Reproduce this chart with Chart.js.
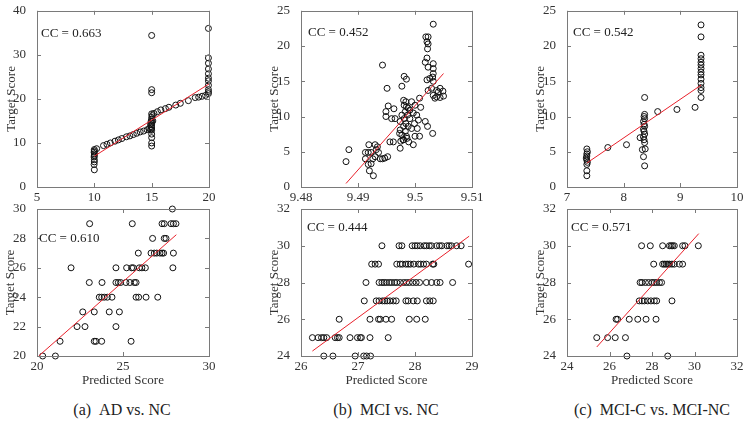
<!DOCTYPE html>
<html>
<head>
<meta charset="utf-8">
<script src="https://cdn.jsdelivr.net/npm/chart.js@4.4.1/dist/chart.umd.min.js"></script>
<style>
  body { margin: 0; background: #fff; }
  #lienzo { position: relative; width: 749px; height: 426px; overflow: hidden; }
  canvas { position: absolute; }
  .leyenda {
    position: absolute; top: 401px; width: 220px; text-align: center;
    font-family: "Liberation Serif", serif; font-size: 16px; line-height: 18px; color: #222;
  }
</style>
</head>
<body>
<div id="lienzo">
  <canvas id="g1"></canvas><canvas id="g2"></canvas><canvas id="g3"></canvas>
  <canvas id="g4"></canvas><canvas id="g5"></canvas><canvas id="g6"></canvas>
  <div class="leyenda" style="left:12px">(a)&ensp;AD vs. NC</div>
  <div class="leyenda" style="left:276px">(b)&ensp;MCI vs. NC</div>
  <div class="leyenda" style="left:542px">(c)&ensp;MCI-C vs. MCI-NC</div>
</div>
<script>
// (a) AD vs. NC - arriba
const adArribaX = [10, 10, 9.98, 10, 10, 9.98, 10, 10, 9.98, 10, 10.2,
  10.8, 11.1, 11.4, 11.8, 12.1, 12.4, 12.8, 13.1, 13.4, 13.7, 14.0, 14.3, 14.6, 14.8,
  15, 15, 15, 15, 15.05, 15, 15, 14.95, 15, 15, 14.95, 15, 15, 15, 15, 15, 15, 14.9, 15.1, 14.9,
  15.2, 15.5, 15.8, 16.2, 16.5, 17.1, 17.5, 18.2, 18.8, 19.1, 19.4, 19.7,
  19.95, 19.95, 19.95, 19.95, 19.95, 19.95, 19.95, 19.95, 19.95, 19.95, 19.95];
const adArribaY = [8.5, 8.2, 7.9, 7.5, 7.1, 6.8, 6.2, 5.7, 5.1, 3.9, 8.7,
  9.4, 9.7, 10.0, 10.4, 10.7, 11.0, 11.4, 11.6, 11.9, 12.2, 12.5, 12.7, 13.0, 13.3,
  34.4, 22.1, 21.4, 16.6, 16.2, 15.8, 15.3, 14.9, 14.5, 14.1, 13.7, 13.4, 12.9, 12.0, 11.2, 10.0, 9.3, 14.2, 15.0, 13.0,
  16.7, 17.1, 17.5, 17.8, 18.1, 18.6, 19.0, 19.6, 20.3, 20.4, 20.6, 20.8,
  36.0, 29.3, 28.1, 26.8, 25.7, 24.7, 24.1, 23.1, 22.1, 21.6, 21.2];
const adArribaAjuste = [{ x: 10, y: 7.0 }, { x: 20, y: 23.4 }];

// (b) MCI vs. NC - arriba
const mciArribaX = [9.4879, 9.4884, 9.4913, 9.4918, 9.4923, 9.4919, 9.4930, 9.4934,
  9.4913, 9.4918, 9.4923, 9.4920, 9.4927, 9.4926, 9.4930, 9.4939, 9.4943, 9.4947,
  9.4932, 9.4936, 9.4952, 9.4956, 9.4962, 9.4943, 9.4951, 9.4949, 9.4953, 9.4949,
  9.4959, 9.4965, 9.4963, 9.4974, 9.4975, 9.4979, 9.4977, 9.4981, 9.4985,
  9.4980, 9.4984, 9.4981, 9.4985, 9.4988, 9.4991, 9.4983, 9.4977, 9.4987, 9.4981,
  9.4991, 9.4974, 9.4984, 9.4980, 9.4988, 9.4974, 9.4983, 9.4977, 9.4985, 9.4980,
  9.4989, 9.4973, 9.4994, 9.5000, 9.4997, 9.5003, 9.5006, 9.4999, 9.4994, 9.4986,
  9.5004, 9.5008, 9.5018, 9.5022, 9.5031, 9.4997, 9.5000, 9.5010, 9.5008,
  9.5032, 9.5019, 9.5023, 9.5021, 9.5023, 9.5022, 9.5021, 9.5018, 9.5032, 9.5023,
  9.5032, 9.5032, 9.5031, 9.5021, 9.5026, 9.5032, 9.5023, 9.5029, 9.5038, 9.5041,
  9.5044, 9.5049, 9.5032, 9.5038, 9.5050, 9.5035, 9.5044];
const mciArribaY = [3.6, 5.3, 4.9, 4.9, 4.9, 6.0, 6.0, 5.7,
  4.0, 3.2, 3.3, 2.3, 1.6, 4.0, 4.3, 4.0, 4.0, 4.1,
  5.3, 4.9, 4.3, 6.4, 6.4, 17.3, 14.0, 10.7, 11.5, 10.0,
  9.7, 9.7, 11.1, 5.5, 6.5, 6.7, 14.3, 15.7, 15.3,
  12.3, 12.1, 11.6, 11.4, 11.2, 10.9, 10.7, 10.2, 10.2, 9.7,
  9.7, 9.3, 9.0, 8.6, 8.6, 8.1, 7.9, 7.4, 7.2, 6.7,
  6.4, 7.6, 12.1, 11.6, 10.5, 10.2, 9.5, 9.0, 8.3, 6.9,
  8.3, 7.2, 9.3, 8.6, 7.6, 6.0, 7.2, 11.3, 12.6,
  23.1, 21.3, 21.3, 20.6, 20.3, 19.6, 18.3, 17.7, 17.5, 17.0,
  16.8, 16.1, 15.6, 15.2, 15.4, 15.0, 13.7, 14.0, 13.7, 13.5,
  14.0, 13.6, 13.0, 12.8, 12.9, 12.6, 12.7];
const mciArribaAjuste = [{ x: 9.4879, y: 0.5 }, { x: 9.505, y: 16.1 }];

// (c) MCI-C vs. MCI-NC - arriba
const convArribaX = [7.35, 7.36, 7.35, 7.35, 7.34, 7.35, 7.36, 7.35, 7.35, 7.35,
  7.72, 8.05,
  8.37, 8.37, 8.36, 8.37, 8.35, 8.36, 8.37, 8.35, 8.36, 8.37, 8.35, 8.36, 8.37, 8.33, 8.35, 8.37, 8.29, 8.38,
  8.6, 8.94, 9.26,
  9.365, 9.365, 9.365, 9.365, 9.365, 9.365, 9.365, 9.365, 9.365, 9.365, 9.365, 9.365, 9.365, 9.365];
const convArribaY = [5.4, 5.0, 4.7, 4.4, 4.1, 3.8, 3.5, 3.2, 2.3, 1.6,
  5.6, 6.0,
  12.7, 10.3, 10.0, 9.7, 9.3, 8.9, 8.6, 8.2, 7.9, 7.5, 7.1, 6.7, 6.3, 5.3, 4.3, 3.0, 7.0, 5.4,
  10.7, 11.0, 11.3,
  23.0, 21.3, 18.7, 18.2, 17.7, 17.3, 16.8, 16.3, 15.9, 15.3, 14.7, 14.1, 13.7, 12.7];
const convArribaAjuste = [{ x: 7.35, y: 3.4 }, { x: 9.365, y: 14.45 }];

// (a) AD vs. NC - abajo
const adAbajoX = [27.87,
  23.06, 25.54, 27.27, 27.40, 27.79, 27.93, 28.08,
  26.72, 27.40, 27.50,
  25.89, 26.63, 26.82, 26.96, 27.15, 27.27, 27.36, 27.93,
  21.98, 24.59, 25.21, 25.50, 25.60, 25.95, 26.10, 26.30, 27.90,
  23.04, 23.78, 24.59, 24.73, 24.86, 25.17, 25.40, 25.66, 25.76,
  23.62, 23.76, 23.91, 24.09, 24.36, 25.76, 25.91, 26.34, 27.02,
  22.66, 23.33, 24.20, 24.79,
  22.33, 22.79, 24.59,
  21.34, 23.33, 23.43, 23.76, 25.47,
  20.33, 21.07];
const adAbajoY = [30,
  29, 29, 29, 29, 29, 29, 29,
  28, 28, 28,
  27, 27, 27, 27, 27, 27, 27, 27,
  26, 26, 26, 26, 26, 26, 26, 26, 26,
  25, 25, 25, 25, 25, 25, 25, 25, 25,
  24, 24, 24, 24, 24, 24, 24, 24, 24,
  23, 23, 23, 23,
  22, 22, 22,
  21, 21, 21, 21, 21,
  20, 20];
const adAbajoAjuste = [{ x: 20.1, y: 20.0 }, { x: 28.1, y: 28.25 }];

// (b) MCI vs. NC - abajo
const mciAbajoX = [27.42, 27.72, 27.77, 27.95, 28.0, 28.04, 28.09, 28.16, 28.2, 28.25, 28.29, 28.38, 28.43, 28.47, 28.56, 28.6, 28.64, 28.73, 28.81,
  27.24, 27.30, 27.36, 27.68, 27.74, 27.78, 27.84, 27.88, 27.92, 27.98, 28.06, 28.1, 28.15, 28.2, 28.31, 28.33, 28.94,
  27.14, 27.37, 27.42, 27.46, 27.5, 27.55, 27.59, 27.64, 27.68, 27.74, 27.8, 27.85, 27.9, 27.96, 28.02, 28.08, 28.2, 28.29, 28.38, 28.44, 28.66,
  27.11, 27.32, 27.37, 27.43, 27.47, 27.51, 27.56, 27.62, 27.67, 27.84, 27.88, 27.97, 28.04, 28.2, 28.26, 28.32,
  26.67, 27.21, 27.36, 27.39, 27.49, 27.59, 27.9, 28.03, 28.18,
  26.2, 26.3, 26.36, 26.4, 26.45, 26.6, 26.64, 26.67, 26.86, 26.99, 27.04, 27.06, 27.21, 27.53,
  26.4, 26.56, 26.95, 27.1, 27.15, 27.22];
const mciAbajoY = [30, 30, 30, 30, 30, 30, 30, 30, 30, 30, 30, 30, 30, 30, 30, 30, 30, 30, 30,
  29, 29, 29, 29, 29, 29, 29, 29, 29, 29, 29, 29, 29, 29, 29, 29, 29,
  28, 28, 28, 28, 28, 28, 28, 28, 28, 28, 28, 28, 28, 28, 28, 28, 28, 28, 28, 28, 28,
  27, 27, 27, 27, 27, 27, 27, 27, 27, 27, 27, 27, 27, 27, 27, 27,
  26, 26, 26, 26, 26, 26, 26, 26, 26,
  25, 25, 25, 25, 25, 25, 25, 25, 25, 25, 25, 25, 25, 25,
  24, 24, 24, 24, 24, 24];
const mciAbajoAjuste = [{ x: 26.2, y: 24.27 }, { x: 28.95, y: 30.52 }];

// (c) MCI-C vs. MCI-NC - abajo
const convAbajoX = [27.51, 27.92, 28.5, 28.82, 28.9, 28.97, 29.05, 29.44, 29.55, 30.18,
  28.08, 28.5, 28.58, 28.66, 28.74, 28.82, 28.94, 29.05, 29.29, 29.44,
  27.44, 27.53, 27.69, 27.84, 28.0, 28.11, 28.22, 28.35, 28.45,
  27.4, 27.53, 27.64, 27.8, 27.95, 28.11, 28.22, 28.94,
  26.31, 26.38, 26.93, 27.33, 27.72, 28.19,
  25.4, 25.91, 26.27, 26.75,
  26.82, 28.74];
const convAbajoY = [30, 30, 30, 30, 30, 30, 30, 30, 30, 30,
  29, 29, 29, 29, 29, 29, 29, 29, 29, 29,
  28, 28, 28, 28, 28, 28, 28, 28, 28,
  27, 27, 27, 27, 27, 27, 27, 27,
  26, 26, 26, 26, 26, 26,
  25, 25, 25, 25,
  24, 24];
const convAbajoAjuste = [{ x: 25.4, y: 24.49 }, { x: 30.2, y: 30.66 }];

const fuente = '"Liberation Serif", serif';
const colorCaja = "#7a7a7a";

// caja completa con marcas hacia adentro (estilo matlab)
const cajaPlugin = {
  id: "caja",
  afterDraw(chart) {
    const { ctx, chartArea: a, scales } = chart;
    ctx.save();
    ctx.strokeStyle = colorCaja;
    ctx.lineWidth = 1;
    ctx.strokeRect(Math.round(a.left) + 0.5, Math.round(a.top) + 0.5, Math.round(a.right - a.left), Math.round(a.bottom - a.top));
    ctx.beginPath();
    scales.x.ticks.forEach((t) => {
      const px = Math.round(scales.x.getPixelForValue(t.value)) + 0.5;
      ctx.moveTo(px, a.bottom); ctx.lineTo(px, a.bottom - 4);
      ctx.moveTo(px, a.top); ctx.lineTo(px, a.top + 4);
    });
    scales.y.ticks.forEach((t) => {
      const py = Math.round(scales.y.getPixelForValue(t.value)) + 0.5;
      ctx.moveTo(a.left, py); ctx.lineTo(a.left + 4, py);
      ctx.moveTo(a.right, py); ctx.lineTo(a.right - 4, py);
    });
    ctx.stroke();
    ctx.restore();
  },
};

const ccPlugin = {
  id: "cc",
  afterDraw(chart, args, opts) {
    const { ctx, chartArea: a } = chart;
    ctx.save();
    ctx.font = "13px " + fuente;
    ctx.fillStyle = "#222";
    ctx.textBaseline = "middle";
    ctx.fillText(opts.texto, a.left + opts.dx, a.top + opts.dy);
    ctx.restore();
  },
};

function formato(v) {
  return String(Math.round(v * 1000) / 1000);
}

function crearPanel(id, p) {
  const canvas = document.getElementById(id);
  canvas.width = p.ancho;
  canvas.height = p.alto;
  canvas.style.left = p.izq + "px";
  canvas.style.top = p.arriba + "px";

  const puntos = p.xs.map((x, i) => ({ x: x, y: p.ys[i] }));

  new Chart(canvas, {
    type: "scatter",
    data: {
      datasets: [
        {
          type: "line",
          data: p.ajuste,
          borderColor: "#e8212b",
          borderWidth: 1,
          pointRadius: 0,
          fill: false,
        },
        {
          data: puntos,
          pointStyle: "circle",
          pointRadius: 3,
          borderColor: "#111",
          backgroundColor: "rgba(0,0,0,0)",
          borderWidth: 1,
          clip: false,
        },
      ],
    },
    options: {
      responsive: false,
      animation: false,
      events: [],
      layout: { padding: { left: 0, right: 12, top: p.padArriba, bottom: 0 } },
      plugins: {
        legend: { display: false },
        tooltip: { enabled: false },
        cc: { texto: p.cc, dx: p.ccX, dy: p.ccY },
      },
      scales: {
        x: {
          type: "linear",
          min: p.xMin,
          max: p.xMax,
          grid: { display: false },
          border: { display: false },
          ticks: {
            stepSize: p.xPaso,
            padding: -5,
            autoSkip: false,
            maxRotation: 0,
            color: "#333",
            font: { family: fuente, size: 13 },
            callback: formato,
          },
          title: {
            display: p.tituloX,
            text: "Predicted Score",
            color: "#333",
            font: { family: fuente, size: 13 },
            padding: { top: 0, bottom: 3 },
          },
          afterFit: (s) => { s.height = p.altoX; },
        },
        y: {
          type: "linear",
          min: p.yMin,
          max: p.yMax,
          grid: { display: false },
          border: { display: false },
          ticks: {
            stepSize: p.yPaso,
            padding: 3,
            color: "#333",
            font: { family: fuente, size: 13 },
            callback: formato,
          },
          title: {
            display: true,
            text: "Target Score",
            color: "#333",
            font: { family: fuente, size: 13 },
            padding: { top: p.padTituloY, bottom: 0 },
          },
          afterFit: (s) => { s.width = p.anchoY; },
        },
      },
    },
    plugins: [cajaPlugin, ccPlugin],
  });
}

const filaArriba = { arriba: 0, alto: 207, padArriba: 10, altoX: 20, tituloX: false };
const filaAbajo = { arriba: 196, alto: 195, padArriba: 13, altoX: 35, tituloX: true };
const col1 = { izq: 0, ancho: 221, anchoY: 37 };
const col2 = { izq: 250, ancho: 234, anchoY: 51 };
const col3 = { izq: 516, ancho: 233, anchoY: 51 };

crearPanel("g1", Object.assign({}, filaArriba, col1, {
  xs: adArribaX, ys: adArribaY, ajuste: adArribaAjuste,
  xMin: 5, xMax: 20, xPaso: 5, yMin: 0, yMax: 40, yPaso: 10,
  cc: "CC = 0.663", ccX: 4, ccY: 23, padTituloY: 4,
}));
crearPanel("g2", Object.assign({}, filaArriba, col2, {
  xs: mciArribaX, ys: mciArribaY, ajuste: mciArribaAjuste,
  xMin: 9.48, xMax: 9.51, xPaso: 0.01, yMin: 0, yMax: 25, yPaso: 5,
  cc: "CC = 0.452", ccX: 7, ccY: 22, padTituloY: 17,
}));
crearPanel("g3", Object.assign({}, filaArriba, col3, {
  xs: convArribaX, ys: convArribaY, ajuste: convArribaAjuste,
  xMin: 7, xMax: 10, xPaso: 1, yMin: 0, yMax: 25, yPaso: 5,
  cc: "CC = 0.542", ccX: 6, ccY: 22, padTituloY: 17,
}));
crearPanel("g4", Object.assign({}, filaAbajo, col1, {
  xs: adAbajoX, ys: adAbajoY, ajuste: adAbajoAjuste,
  xMin: 20, xMax: 30, xPaso: 5, yMin: 20, yMax: 30, yPaso: 2,
  cc: "CC = 0.610", ccX: 2, ccY: 30, padTituloY: 3,
}));
crearPanel("g5", Object.assign({}, filaAbajo, col2, {
  xs: mciAbajoX, ys: mciAbajoY, ajuste: mciAbajoAjuste,
  xMin: 26, xMax: 29, xPaso: 1, yMin: 24, yMax: 32, yPaso: 2,
  cc: "CC = 0.444", ccX: 6, ccY: 19, padTituloY: 17,
}));
crearPanel("g6", Object.assign({}, filaAbajo, col3, {
  xs: convAbajoX, ys: convAbajoY, ajuste: convAbajoAjuste,
  xMin: 24, xMax: 32, xPaso: 2, yMin: 24, yMax: 32, yPaso: 2,
  cc: "CC = 0.571", ccX: 4, ccY: 19, padTituloY: 17,
}));
</script>
</body>
</html>
